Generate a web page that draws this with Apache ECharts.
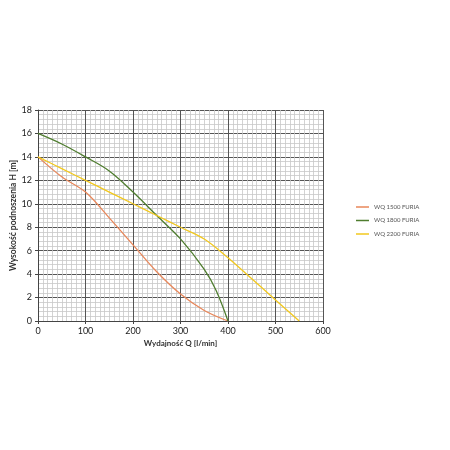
<!DOCTYPE html>
<html><head><meta charset="utf-8">
<script src="https://cdn.jsdelivr.net/npm/echarts@6/dist/echarts.min.js"></script>
<style>html,body{margin:0;padding:0;background:#fff}#c{width:450px;height:450px}</style>
</head><body><div id="c"></div>
<script>
const seriesNames = ['WQ 1500 FURIA', 'WQ 1800 FURIA', 'WQ 2200 FURIA'];
const seriesColors = ['#e8875a', '#4f7d2f', '#f2c81e'];
const wq1500 = [[0,14],[50,12.3],[100,11],[150,8.8],[200,6.5],[250,4.2],[300,2.3],[350,0.9],[400,0]];
const wq1800 = [[0,16],[50,15.1],[100,14],[150,12.8],[200,11],[250,9],[300,7],[350,4.4],[375,2.6],[400,0]];
const wq2200 = [[0,14],[50,13],[100,12],[150,11],[200,10],[250,9],[300,8],[350,7],[400,5.4],[450,3.6],[500,1.8],[550,0]];
const xTicks = [0,100,200,300,400,500,600];
const yTicks = [0,2,4,6,8,10,12,14,16,18];

const chart = echarts.init(document.getElementById('c'), null, {renderer:'canvas'});
const font = 'Lato, "Noto Sans", sans-serif';
const allData = [wq1500, wq1800, wq2200];
chart.setOption({
  animation:false,
  backgroundColor:'#fff',
  grid:{left:38, right:127, top:110, bottom:129, containLabel:false, outerBoundsMode:'none'},
  legend:{
    orient:'vertical', left:351, top:199, itemWidth:13, itemHeight:1.5, itemGap:7.5, icon:'rect',
    textStyle:{fontSize:6, color:'#555', fontFamily:font},
    data:seriesNames
  },
  xAxis:{
    type:'value', min:xTicks[0], max:xTicks[xTicks.length-1], interval:100,
    name:'Wydajność Q [l/min]', nameLocation:'middle', nameGap:18, nameMoveOverlap:false,
    nameTextStyle:{fontSize:8, fontWeight:'bold', color:'#333', fontFamily:font},
    axisLine:{show:true, lineStyle:{color:'#444', width:1}},
    axisTick:{show:true, length:3, lineStyle:{color:'#444'}},
    axisLabel:{fontSize:9, color:'#222', margin:6, fontFamily:font},
    splitLine:{show:true, lineStyle:{color:'#555', width:1, type:'solid'}},
    minorTick:{show:true, splitNumber:10, length:0},
    minorSplitLine:{show:true, lineStyle:{color:'#c8c8c8', width:0.8, type:'solid'}}
  },
  yAxis:{
    type:'value', min:yTicks[0], max:yTicks[yTicks.length-1], interval:2,
    name:'Wysokość podnoszenia H [m]', nameLocation:'middle', nameGap:20, nameRotate:90, nameMoveOverlap:false,
    nameTextStyle:{fontSize:8.5, fontWeight:'bold', color:'#333', fontFamily:font},
    axisLine:{show:true, lineStyle:{color:'#444', width:1}},
    axisTick:{show:true, length:3, lineStyle:{color:'#444'}},
    axisLabel:{fontSize:9, color:'#222', margin:6, fontFamily:font},
    splitLine:{show:true, lineStyle:{color:'#555', width:1, type:'solid'}},
    minorTick:{show:true, splitNumber:5, length:0},
    minorSplitLine:{show:true, lineStyle:{color:'#c8c8c8', width:0.8, type:'solid'}}
  },
  series: seriesNames.map((n,i)=>({
    name:n, type:'line', data:allData[i], smooth:0.35, symbol:'none', showSymbol:false,
    color:seriesColors[i],
    itemStyle:{color:seriesColors[i]},
    lineStyle:{width:1.3, color:seriesColors[i]}
  }))
});
</script></body></html>
